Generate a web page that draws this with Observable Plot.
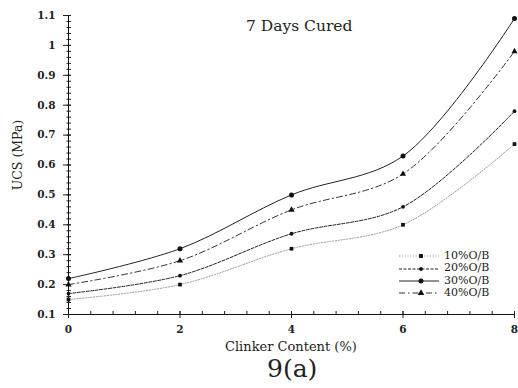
<!DOCTYPE html>
<html>
<head>
<meta charset="utf-8">
<script src="https://cdn.jsdelivr.net/npm/d3@7"></script>
<script src="https://cdn.jsdelivr.net/npm/@observablehq/plot@0.6"></script>
<style>
  html, body { margin: 0; padding: 0; background: #fff; }
  #wrap { position: relative; width: 518px; height: 388px; font-family: "DejaVu Serif", serif; color: #222; }
  .abs { position: absolute; white-space: nowrap; line-height: 1; }
  #legend { position: absolute; left: 398px; top: 250px; font-size: 11px; line-height: 12.4px; }
  #legend .row { display: flex; align-items: center; height: 12.4px; }
  #legend svg { margin-right: 4px; }
</style>
</head>
<body>
<div id="wrap"></div>
<script>
const clinker = [0, 2, 4, 6, 8];
const ob10 = [0.15, 0.20, 0.32, 0.40, 0.67];
const ob20 = [0.17, 0.23, 0.37, 0.46, 0.78];
const ob30 = [0.22, 0.32, 0.50, 0.63, 1.09];
const ob40 = [0.20, 0.28, 0.45, 0.57, 0.98];
const seriesNames = ["10%O/B", "20%O/B", "30%O/B", "40%O/B"];
const xTicks = [0, 2, 4, 6, 8];
const yTicks = [0.1, 0.2, 0.3, 0.4, 0.5, 0.6, 0.7, 0.8, 0.9, 1.0, 1.1];
const xMinor = d3.range(0, 8.001, 0.4);
const yMinor = d3.range(0.1, 1.1001, 0.02);

const styles = {
  "10%O/B": {stroke: "#999", dash: "1.2,1.6", width: 1, symbol: "square", r: 2.1},
  "20%O/B": {stroke: "#222", dash: "3,1.5", width: 1, symbol: "circle", r: 1.9},
  "30%O/B": {stroke: "#222", dash: null, width: 1, symbol: "circle", r: 2.5},
  "40%O/B": {stroke: "#333", dash: "6,3,1.5,3", width: 1, symbol: "triangle", r: 2.3}
};
const allVals = [ob10, ob20, ob30, ob40];
const rows = [];
seriesNames.forEach((s, i) => clinker.forEach((c, j) => rows.push({series: s, x: c, y: allVals[i][j]})));

const FONT = "'DejaVu Serif', serif";
const marks = [];
for (const s of seriesNames) {
  const st = styles[s];
  const d = rows.filter(r => r.series === s);
  marks.push(Plot.line(d, {x: "x", y: "y", stroke: st.stroke, strokeWidth: st.width, strokeDasharray: st.dash, curve: "catmull-rom"}));
  marks.push(Plot.dot(d, {x: "x", y: "y", symbol: () => st.symbol, r: st.r, fill: "#111", stroke: "none"}));
}

const chart = Plot.plot({
  width: 518,
  height: 388,
  marginLeft: 68,
  marginRight: 4,
  marginTop: 15,
  marginBottom: 74,
  style: {fontFamily: FONT, fontSize: "11px", color: "#222", overflow: "visible"},
  x: {domain: [0, 8]},
  y: {domain: [0.1, 1.1]},
  marks: [
    Plot.axisY({ticks: yTicks, tickSize: 5, tickFormat: d => String(+d.toFixed(1)), label: null, tickPadding: 8, fontWeight: "bold", fontSize: 10.5, fontFamily: FONT}),
    Plot.axisY({ticks: yTicks, tickSize: -3, text: null, label: null}),
    Plot.axisY({ticks: yMinor, tickSize: -3, text: null, label: null}),
    Plot.axisY({ticks: yMinor, tickSize: 1.5, text: null, label: null}),
    Plot.axisX({ticks: xTicks, tickSize: 4, tickFormat: d => String(d), label: null, tickPadding: 7, fontWeight: "bold", fontSize: 10.5, fontFamily: FONT}),
    Plot.axisX({ticks: xTicks, tickSize: -3, text: null, label: null}),
    Plot.axisX({ticks: xMinor, tickSize: -3, text: null, label: null}),
    Plot.ruleX([0], {stroke: "#111"}),
    Plot.ruleY([0.1], {stroke: "#111"}),
    ...marks
  ]
});
const wrap = document.getElementById("wrap");
wrap.appendChild(chart);

function addText(txt, css) {
  const el = document.createElement("div");
  el.className = "abs";
  el.textContent = txt;
  Object.assign(el.style, css);
  wrap.appendChild(el);
  return el;
}
addText("7 Days Cured", {left: "246px", top: "19px", fontSize: "15.5px"});
addText("Clinker Content (%)", {left: "225px", top: "340px", fontSize: "13px"});
addText("9(a)", {left: "267px", top: "356px", fontSize: "25px"});
addText("UCS (MPa)", {left: "-14px", top: "152px", fontSize: "12.5px", transform: "rotate(-90deg)", transformOrigin: "center", width: "64px", textAlign: "center"});

const legend = document.createElement("div");
legend.id = "legend";
for (const s of seriesNames) {
  const st = styles[s];
  const row = document.createElement("div");
  row.className = "row";
  const svg = d3.create("svg").attr("width", 42).attr("height", 10);
  svg.append("line").attr("x1", 1).attr("x2", 41).attr("y1", 5).attr("y2", 5)
    .attr("stroke", st.stroke).attr("stroke-width", 1).attr("stroke-dasharray", st.dash);
  const sym = d3.symbol().type(st.symbol === "square" ? d3.symbolSquare : st.symbol === "triangle" ? d3.symbolTriangle : d3.symbolCircle)
    .size(st.symbol === "circle" ? Math.PI * st.r * st.r : st.r * st.r * 3.5);
  svg.append("path").attr("d", sym()).attr("transform", "translate(23,5)").attr("fill", "#111");
  row.appendChild(svg.node());
  const t = document.createElement("span");
  t.textContent = s;
  row.appendChild(t);
  legend.appendChild(row);
}
wrap.appendChild(legend);
</script>
</body>
</html>
